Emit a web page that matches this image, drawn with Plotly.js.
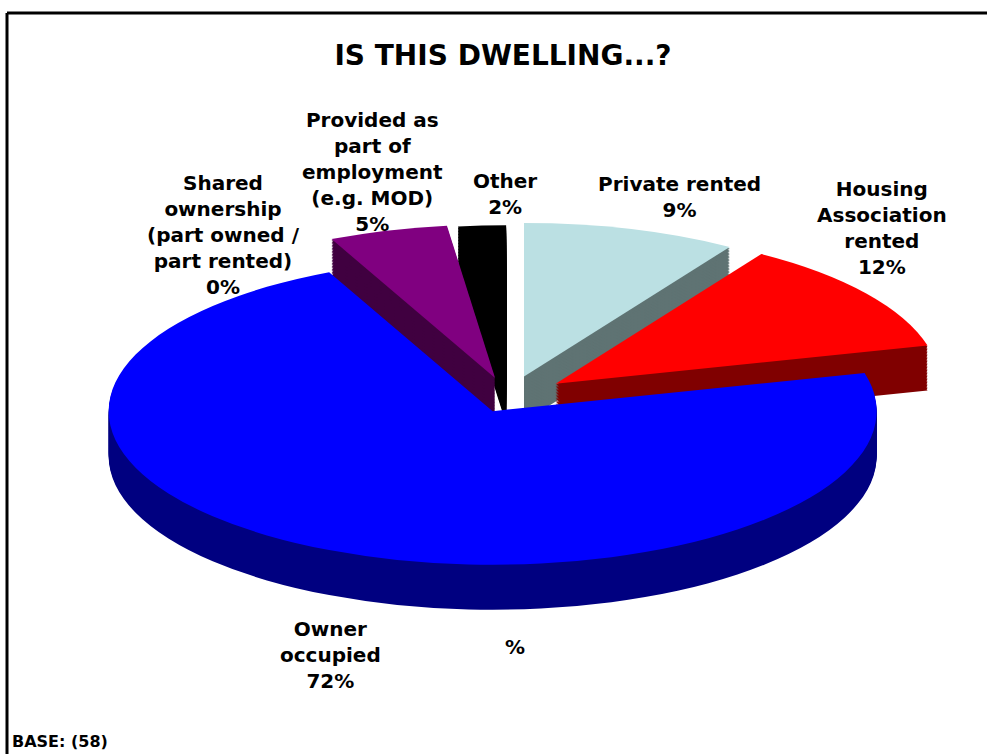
<!DOCTYPE html>
<html><head><meta charset="utf-8">
<script src="https://cdn.plot.ly/plotly-3.0.1.min.js"></script>
<style>
html,body{margin:0;padding:0;background:#fff;overflow:hidden;}
#wrap{position:relative;width:987px;height:754px;}
#text{position:absolute;left:0;top:0;width:987px;height:754px;}
#pie{position:absolute;left:0;top:0;width:987px;transform-origin:0 0;}
</style></head><body>
<div id="wrap"><div id="text"></div><div id="pie"></div></div>
<script>
// ---- data ----
const categories = ["Private rented", "Housing Association rented", "Owner occupied",
  "Shared ownership (part owned / part rented)", "Provided as part of employment (e.g. MOD)", "Other"];
const values = [9, 12, 72, 0, 5, 2];
const wrappedLabels = ["Private rented", "Housing<br>Association<br>rented", "Owner<br>occupied",
  "Shared<br>ownership<br>(part owned /<br>part rented)", "Provided as<br>part of<br>employment<br>(e.g. MOD)", "Other"];
const titleText = "IS THIS DWELLING...?";
const baseText = "BASE: (58)";
const strayText = "%";

// ---- styles / geometry ----
const topColors  = ['#BBE0E3', '#FF0000', '#0000FF', '#993366', '#800080', '#000000'];
const sideColors = ['#5F7373', '#800000', '#000080', '#804040', '#400040', '#000000'];
const explode = [0.14, 0.15, 0.10, 0, 0.13, 0.12];
const labelPos = [[679, 197], [882, 228], [330, 655], [223, 235], [372, 172], [505, 194]];

const W = 987, H = 754;
const cx = 509, cy = 397, R = 384, s = 0.40, depth = 45, nLayers = 30;
const maxPull = Math.max(...explode);
const D = 2 * R * (1 + maxPull);
const yc = D / 2 + 4;
const Hpre = Math.ceil(yc + D / 2 + depth / s + 6);
const top0 = cy - s * yc;

const pieDiv = document.getElementById('pie');
pieDiv.style.height = Hpre + 'px';
pieDiv.style.top = top0 + 'px';
pieDiv.style.transform = 'scaleY(' + s + ')';

function domainAt(ycPre) {
  return {
    x: [(cx - D / 2) / W, (cx + D / 2) / W],
    y: [(Hpre - ycPre - D / 2) / Hpre, (Hpre - ycPre + D / 2) / Hpre]
  };
}
function pieTrace(colors, ycPre) {
  return {
    type: 'pie', labels: categories, values: values, sort: false,
    direction: 'clockwise', rotation: 0, pull: explode,
    marker: {colors: colors, line: {width: 0}},
    textinfo: 'none', hoverinfo: 'skip', showlegend: false,
    domain: domainAt(ycPre)
  };
}
const traces = [];
for (let k = nLayers; k >= 1; k--) {
  traces.push(pieTrace(sideColors, yc + (depth * k / nLayers) / s));
}
traces.push(pieTrace(topColors, yc));

Plotly.newPlot(pieDiv, traces, {
  width: W, height: Hpre, autosize: false,
  margin: {l: 0, r: 0, t: 0, b: 0},
  paper_bgcolor: 'rgba(0,0,0,0)', plot_bgcolor: 'rgba(0,0,0,0)', showlegend: false
}, {staticPlot: true});

// ---- text layer ----
const labelFont = {family: 'DejaVu Sans', size: 20, color: '#000', weight: 'bold'};
const annotations = categories.map((c, i) => ({
  text: wrappedLabels[i] + '<br>' + values[i] + '%',
  xref: 'paper', yref: 'paper',
  x: labelPos[i][0] / W, y: 1 - labelPos[i][1] / H,
  xanchor: 'center', yanchor: 'middle', showarrow: false, align: 'center',
  font: labelFont
}));
annotations.push({text: strayText, xref: 'paper', yref: 'paper', x: 515 / W, y: 1 - 647 / H,
  xanchor: 'center', yanchor: 'middle', showarrow: false, font: labelFont});
annotations.push({text: baseText, xref: 'paper', yref: 'paper', x: 10 / W, y: 1 - 741 / H,
  xanchor: 'left', yanchor: 'middle', showarrow: false,
  font: {family: 'DejaVu Sans', size: 16, color: '#000', weight: 'bold'}});

Plotly.newPlot('text', [], {
  width: W, height: H, autosize: false,
  margin: {l: 0, r: 0, t: 0, b: 0},
  paper_bgcolor: '#fff', plot_bgcolor: '#fff',
  xaxis: {visible: false}, yaxis: {visible: false},
  title: {text: titleText, x: 503 / W, xanchor: 'center', y: 1 - 55 / H, yanchor: 'middle',
    font: {family: 'DejaVu Sans', size: 28, color: '#000', weight: 'bold'}},
  annotations: annotations,
  shapes: [
    {type: 'line', xref: 'paper', yref: 'paper', x0: 7 / W, x1: 1, y0: 1 - 13 / H, y1: 1 - 13 / H, line: {color: '#000', width: 3}},
    {type: 'line', xref: 'paper', yref: 'paper', x0: 7 / W, x1: 7 / W, y0: 1 - 13 / H, y1: 0, line: {color: '#000', width: 3}}
  ]
}, {staticPlot: true});
</script>
</body></html>
